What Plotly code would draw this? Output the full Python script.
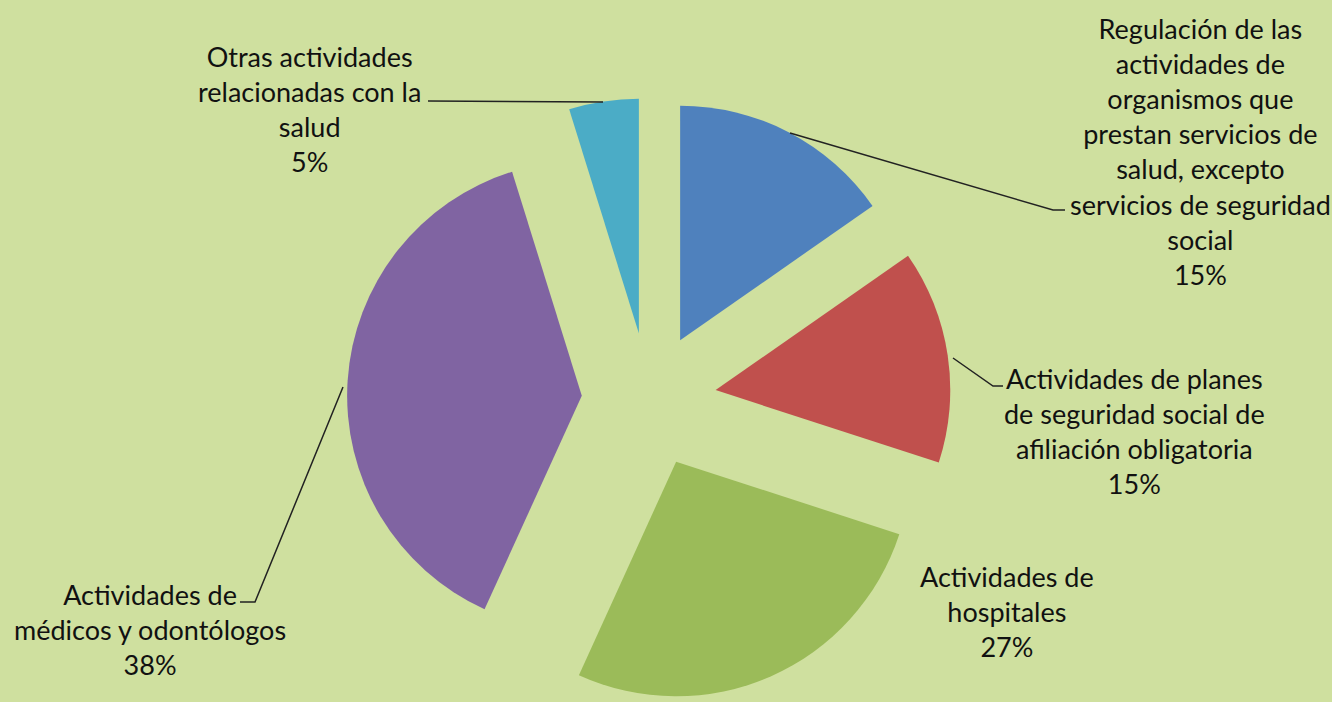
import plotly.graph_objects as go

# ---- data ----
categories = [
    "Regulación de las<br>actividades de<br>organismos que<br>prestan servicios de<br>salud, excepto<br>servicios de seguridad<br>social",
    "Actividades de planes<br>de seguridad social de<br>afiliación obligatoria",
    "Actividades de<br>hospitales",
    "Actividades de<br>médicos y odontólogos",
    "Otras actividades<br>relacionadas con la<br>salud",
]
values = [15.3, 14.7, 26.8, 38.4, 4.8]
colors = ["#4f81bd", "#c0504d", "#9bbb59", "#8064a2", "#4bacc6"]

W, H = 1332, 702
BG = "#cfe09f"

total = sum(values)
pcts = [round(v / total * 100) for v in values]

fig = go.Figure(go.Pie(
    labels=[c.replace("<br>", " ") for c in categories],
    values=values,
    sort=False,
    direction="clockwise",
    rotation=0,
    pull=[0.287] * len(values),
    marker=dict(colors=colors, line=dict(width=0)),
    textinfo="none",
    hoverinfo="label+percent",
    showlegend=False,
    domain=dict(x=[347 / W, 951 / W], y=[0, 1 - 98 / H]),
))

def px(x, y):
    return x / W, 1 - y / H

# label block centres (pixels)
label_pos = [(1200, 151), (1134, 431), (1007, 611), (150, 629), (309, 109)]
for cat, p, (x, y) in zip(categories, pcts, label_pos):
    xp, yp = px(x, y)
    fig.add_annotation(
        x=xp, y=yp, xref="paper", yref="paper",
        text=f"{cat}<br>{p}%", showarrow=False, align="center",
        xanchor="center", yanchor="middle",
        font=dict(family="Lato, sans-serif", size=27, color="#111111"),
    )

# leader lines (pixel paths)
leaders = [
    [(790, 133), (1053, 210), (1065, 210)],
    [(953, 358), (993, 386), (1003, 386)],
    [(343, 387), (255, 602), (240, 602)],
    [(428, 101), (603, 102)],
]
for pts in leaders:
    path = ""
    for i, (x, y) in enumerate(pts):
        xp, yp = px(x, y)
        path += ("M" if i == 0 else "L") + f"{xp},{yp} "
    fig.add_shape(type="path", path=path.strip(), xref="paper", yref="paper",
                  line=dict(color="#222222", width=1.5))

fig.update_layout(
    width=W, height=H,
    margin=dict(l=0, r=0, t=0, b=0),
    paper_bgcolor=BG, plot_bgcolor=BG,
)

fig.write_html("out.html")
